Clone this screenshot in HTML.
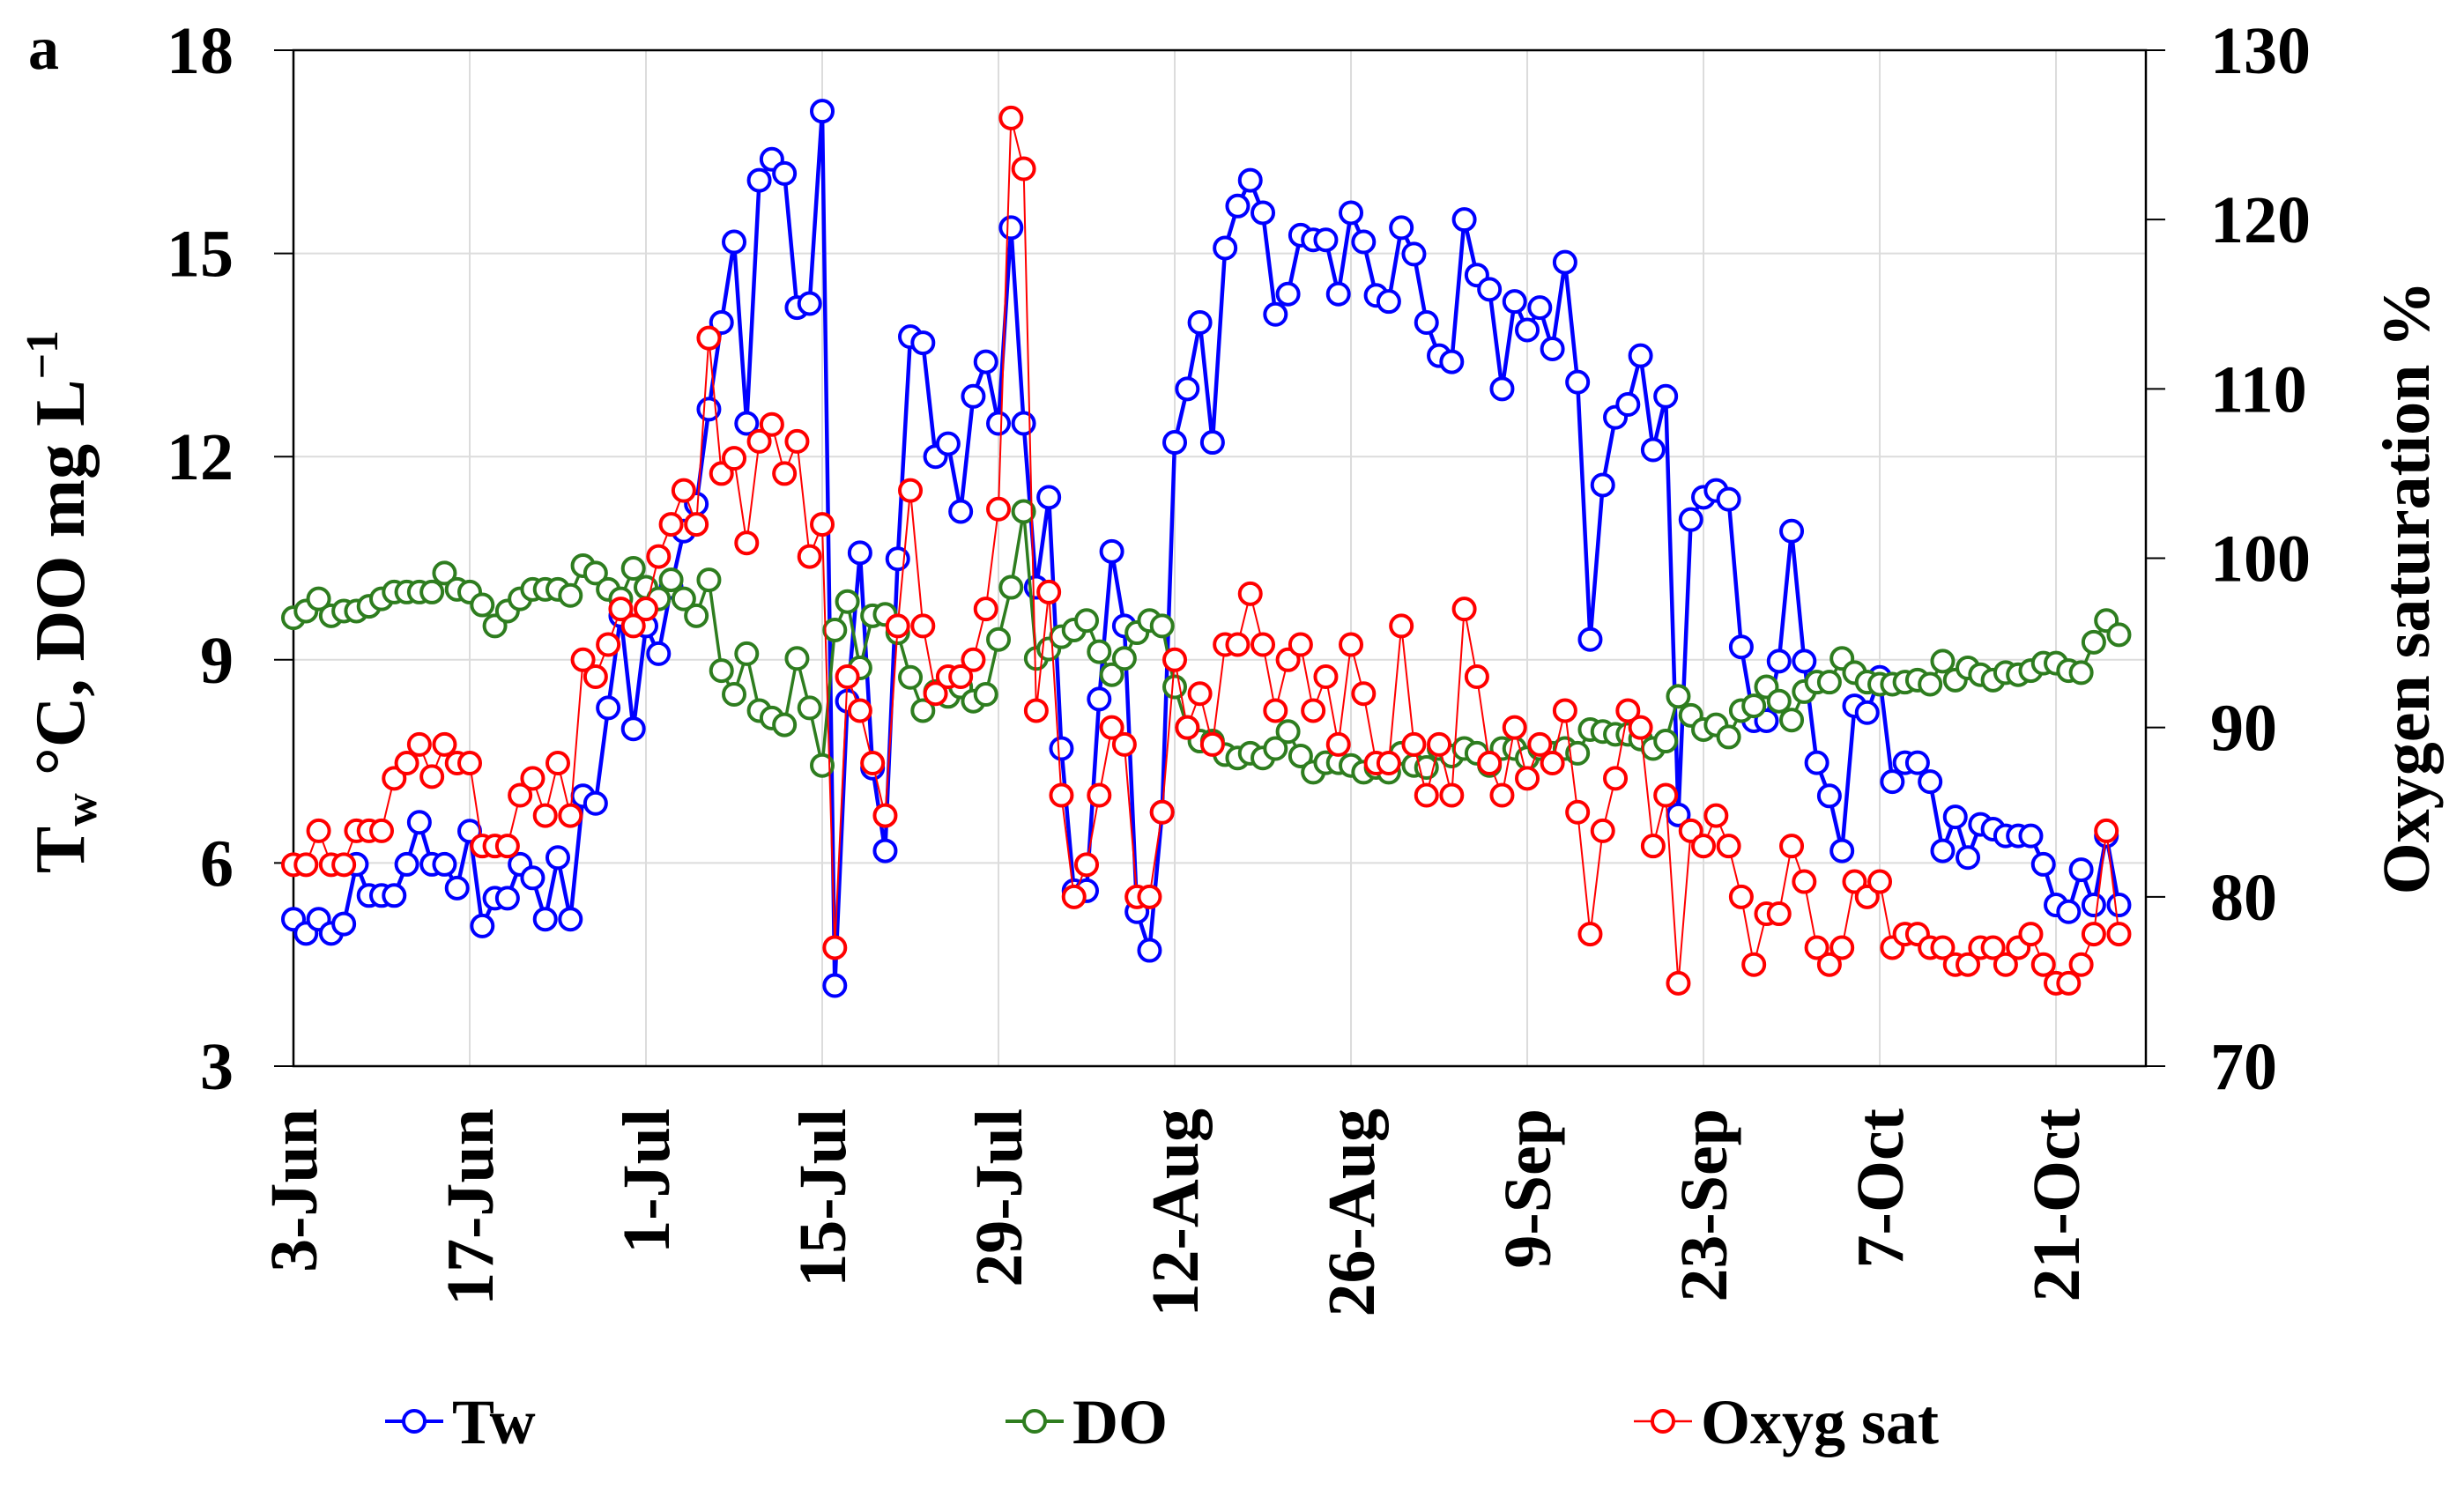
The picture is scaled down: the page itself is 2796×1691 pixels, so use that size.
<!DOCTYPE html>
<html><head><meta charset="utf-8"><style>
html,body{margin:0;padding:0;background:#fff;}
svg, svg text{font-family:"Liberation Serif","Times New Roman","DejaVu Serif",serif;font-weight:bold;}
</style></head><body>
<svg id="chart" width="2796" height="1686" viewBox="0 0 2796 1686" xmlns="http://www.w3.org/2000/svg" font-family="Liberation Serif, serif" font-weight="bold">
<text x="32" y="78" font-size="70" font-family="Liberation Serif, serif">a</text>
<g id="grid"></g>
<g id="axes"></g>
<g id="series"></g>
<text transform="translate(95,683) rotate(-90)" text-anchor="middle" font-size="80" font-family="Liberation Serif, serif">T<tspan font-size="52" dy="14">w</tspan><tspan dy="-14"> °C, DO mg L</tspan><tspan font-size="52" dy="-30">−1</tspan></text>
<text transform="translate(2756,667) rotate(-90)" text-anchor="middle" font-size="76" font-family="Liberation Serif, serif">Oxygen saturation %</text>
<g id="legend"></g>
</svg>
<script>
const dateLabels=["3-Jun","17-Jun","1-Jul","15-Jul","29-Jul","12-Aug","26-Aug","9-Sep","23-Sep","7-Oct","21-Oct"];
const leftTicks=[3,6,9,12,15,18];
const rightTicks=[70,80,90,100,110,120,130];
const tw=[5.17,4.96,5.17,4.96,5.1,5.98,5.52,5.52,5.52,5.98,6.6,5.98,5.98,5.63,6.47,5.07,5.48,5.48,5.98,5.78,5.17,6.08,5.17,6.99,6.88,8.29,9.65,7.98,9.5,9.09,10.07,10.9,11.3,12.7,13.98,15.17,12.49,16.08,16.39,16.18,14.2,14.26,17.1,4.19,8.39,10.58,7.4,6.18,10.49,13.77,13.68,12.0,12.19,11.19,12.89,13.4,12.49,15.38,12.49,10.07,11.4,7.69,5.59,5.59,8.42,10.6,9.5,5.28,4.71,6.75,12.21,13.0,13.98,12.21,15.08,15.7,16.08,15.6,14.1,14.4,15.27,15.2,15.2,14.4,15.6,15.17,14.38,14.29,15.38,14.99,13.98,13.49,13.4,15.5,14.68,14.47,13.0,14.29,13.87,14.2,13.59,14.87,13.1,9.3,11.58,12.58,12.77,13.49,12.1,12.89,6.71,11.07,11.4,11.5,11.37,9.19,8.1,8.1,8.98,10.9,8.98,7.48,6.99,6.18,8.32,8.22,8.74,7.2,7.48,7.48,7.2,6.18,6.68,6.08,6.57,6.5,6.4,6.4,6.4,5.98,5.38,5.28,5.9,5.38,6.4,5.38];
const dox=[9.62,9.72,9.9,9.65,9.72,9.72,9.79,9.9,10.0,10.0,10.0,10.0,10.28,10.04,10.0,9.81,9.5,9.72,9.9,10.04,10.04,10.04,9.95,10.39,10.28,10.04,9.9,10.35,10.07,9.9,10.18,9.9,9.65,10.18,8.84,8.49,9.09,8.25,8.14,8.04,9.02,8.29,7.44,9.44,9.86,8.88,9.65,9.67,9.4,8.74,8.25,8.53,8.46,8.6,8.39,8.49,9.3,10.07,11.19,9.02,9.16,9.34,9.44,9.58,9.12,8.78,9.02,9.4,9.58,9.5,8.6,8.0,7.8,7.8,7.6,7.55,7.62,7.55,7.69,7.94,7.58,7.34,7.48,7.48,7.44,7.34,7.41,7.34,7.62,7.44,7.41,7.69,7.58,7.69,7.62,7.44,7.69,7.69,7.55,7.69,7.62,7.69,7.62,7.97,7.94,7.9,7.9,7.83,7.69,7.8,8.46,8.18,7.97,8.04,7.86,8.25,8.32,8.6,8.39,8.11,8.53,8.67,8.67,9.02,8.81,8.67,8.64,8.64,8.67,8.7,8.64,8.98,8.7,8.88,8.78,8.7,8.81,8.78,8.84,8.95,8.95,8.84,8.81,9.26,9.58,9.37];
const sat=[81.9,81.9,83.9,81.9,81.9,83.9,83.9,83.9,87.0,87.9,89.0,87.1,89.0,87.9,87.9,83.0,83.0,83.0,86.0,87.0,84.8,87.9,84.8,94.0,93.0,94.9,97.0,96.0,97.0,100.1,102.0,104.0,102.0,113.0,105.0,105.9,100.9,106.9,107.9,105.0,106.9,100.1,102.0,77.0,93.0,91.0,87.9,84.8,96.0,104.0,96.0,92.0,93.0,93.0,94.0,97.0,102.9,126.0,123.0,91.0,98.0,86.0,80.0,81.9,86.0,90.0,89.0,80.0,80.0,85.0,94.0,90.0,92.0,89.0,94.9,94.9,97.9,94.9,91.0,94.0,94.9,91.0,93.0,89.0,94.9,92.0,87.9,87.9,96.0,89.0,86.0,89.0,86.0,97.0,93.0,87.9,86.0,90.0,87.0,89.0,87.9,91.0,85.0,77.8,83.9,87.0,91.0,90.0,83.0,86.0,74.9,83.9,83.0,84.8,83.0,80.0,76.0,79.0,79.0,83.0,80.9,77.0,76.0,77.0,80.9,80.0,80.9,77.0,77.8,77.8,77.0,77.0,76.0,76.0,77.0,77.0,76.0,77.0,77.8,76.0,74.9,74.9,76.0,77.8,83.9,77.8];

const NS="http://www.w3.org/2000/svg";
const FF="Liberation Serif, serif";
const X0=333,DAY=14.286,YT=57,YB=1210,XR=2435;
const x=d=>X0+d*DAY;
const yl=v=>YB-(v-3)/15*(YB-YT);
const yr=v=>YB-(v-70)/60*(YB-YT);
function mk(tag,attrs,parent){const e=document.createElementNS(NS,tag);for(const k in attrs)e.setAttribute(k,attrs[k]);parent.appendChild(e);return e;}
const grid=document.getElementById('grid'),axes=document.getElementById('axes'),ser=document.getElementById('series'),leg=document.getElementById('legend');
dateLabels.forEach((lab,i)=>{
  const xx=x(i*14);
  const g=mk('line',{x1:xx,x2:xx,y1:YT,y2:YB,stroke:'#dcdcdc','stroke-width':2},grid);
  
  
  const t=mk('text',{transform:`translate(${xx+26},1258) rotate(-90)`,'text-anchor':'end','font-size':76,'font-family':FF},axes);
  t.textContent=lab;
  
  
});
leftTicks.forEach(v=>{
  const yy=yl(v);
  if(v>3&&v<18){const g=mk('line',{x1:X0,x2:XR,y1:yy,y2:yy,stroke:'#dcdcdc','stroke-width':2},grid);
  
  }
  const tk=mk('line',{x1:311,x2:X0,y1:yy,y2:yy,stroke:'#000','stroke-width':2},axes);
  
  
  const t=mk('text',{x:265,y:yy+26,'text-anchor':'end','font-size':76,'font-family':FF},axes);
  t.textContent=v;
  
  
});
rightTicks.forEach(v=>{
  const yy=yr(v);
  const tk=mk('line',{x1:XR,x2:2457,y1:yy,y2:yy,stroke:'#000','stroke-width':2},axes);
  
  
  const t=mk('text',{x:2508,y:yy+26,'text-anchor':'start','font-size':76,'font-family':FF},axes);
  t.textContent=v;
  
  
});
const fr=mk('rect',{x:X0,y:YT,width:XR-X0,height:YB-YT,fill:'none',stroke:'#000','stroke-width':2.5},axes);


function series(vals,yf,color,lw,name){
  const g=mk('g',{},ser);
  
  
  const pts=vals.map((v,i)=>x(i).toFixed(1)+','+yf(v).toFixed(1)).join(' ');
  const pl=mk('polyline',{points:pts,fill:'none',stroke:color,'stroke-width':lw,'stroke-linejoin':'round'},g);
  
  
  vals.forEach((v,i)=>{
    const c=mk('circle',{cx:x(i),cy:yf(v),r:12,fill:'#fff',stroke:color,'stroke-width':4},g);
    
    
  });
}
series(tw,yl,'#0000ff',4.5,'tw');
series(dox,yl,'#2e7d1f',3.5,'do');
series(sat,yr,'#ff0000',2,'oxyg-sat');
[[437,'#0000ff','Tw'],[1141,'#2e7d1f','DO'],[1854,'#ff0000','Oxyg sat']].forEach(([lx,c,lab])=>{
  const g=mk('g',{},leg);
  
  
  mk('line',{x1:lx,x2:lx+66,y1:1613,y2:1613,stroke:c,'stroke-width':lab==='Oxyg sat'?2.5:4},g);
  mk('circle',{cx:lx+33,cy:1613,r:12,fill:'#fff',stroke:c,'stroke-width':4},g);
  const t=mk('text',{x:lx+76,y:1638,'font-size':72,'font-family':FF},g);
  t.textContent=lab;
});
</script>
</body></html>
